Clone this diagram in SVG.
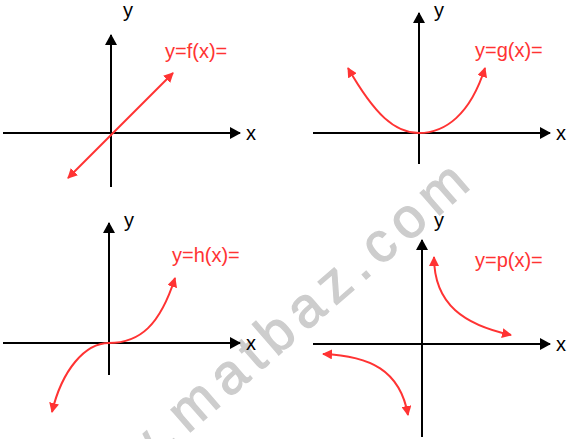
<svg xmlns="http://www.w3.org/2000/svg" width="567" height="439" viewBox="0 0 567 439">
<style>
.ax{stroke:#000;stroke-width:2;fill:none;marker-end:url(#ah)}
.cv{stroke:#ff3333;stroke-width:2;fill:none;marker-start:url(#rh);marker-end:url(#rh)}
.lb{font-family:"Liberation Sans",Arial,sans-serif;font-size:20px;fill:#000}
.fn{font-family:"Liberation Sans",Arial,sans-serif;font-size:20px;fill:#ff3333}
.wm{font-family:"Liberation Sans",Arial,sans-serif;font-size:56px;fill:#cdcdcd;stroke:#cdcdcd;stroke-width:1.2;letter-spacing:8px}
</style>
<defs>
<marker id="ah" markerUnits="userSpaceOnUse" markerWidth="12" markerHeight="12" refX="10" refY="6" orient="auto" viewBox="0 0 12 12">
<path d="M0,0 L11,6 L0,12 z" fill="#000"/>
</marker>
<marker id="rh" markerUnits="userSpaceOnUse" markerWidth="11" markerHeight="10" refX="9" refY="5" orient="auto-start-reverse" viewBox="0 0 11 10">
<path d="M0,0 L10,5 L0,10 z" fill="#ff3333"/>
</marker>
</defs>
<rect width="567" height="439" fill="#fff"/>
<text class="wm" text-anchor="end" transform="translate(478,182) rotate(-41)">www.matbaz.com</text>

<g id="graph-f">
<line class="ax" x1="3" y1="133" x2="240" y2="133"/>
<line class="ax" x1="111" y1="187" x2="111" y2="35"/>
<line class="cv" x1="68" y1="178" x2="173" y2="73"/>
<text class="lb" x="246" y="140">x</text>
<text class="lb" x="123" y="17">y</text>
<text class="fn" x="165" y="58">y=f(x)=</text>
</g>

<g id="graph-g">
<line class="ax" x1="313" y1="133" x2="550" y2="133"/>
<line class="ax" x1="419" y1="164" x2="419" y2="13"/>
<path class="cv" d="M348,68 C375,115 395,133 419,133 C445,133 470,115 485,68"/>
<text class="lb" x="556" y="140">x</text>
<text class="lb" x="434" y="17">y</text>
<text class="fn" x="475" y="57">y=g(x)=</text>
</g>

<g id="graph-h">
<line class="ax" x1="3" y1="343" x2="240" y2="343"/>
<line class="ax" x1="109" y1="375" x2="109" y2="223"/>
<path class="cv" d="M52,412 C62,370 85,343 109,343 C140,343 160,325 175,278"/>
<text class="lb" x="246" y="350">x</text>
<text class="lb" x="124" y="227">y</text>
<text class="fn" x="172" y="262">y=h(x)=</text>
</g>

<g id="graph-p">
<line class="ax" x1="313" y1="344" x2="550" y2="344"/>
<line class="ax" x1="422" y1="437" x2="422" y2="240"/>
<path class="cv" d="M434,257 C434,305 465,325 511,335"/>
<path class="cv" d="M323,354 C370,356 400,370 408,415"/>
<text class="lb" x="556" y="351">x</text>
<text class="lb" x="434" y="227">y</text>
<text class="fn" x="475" y="267">y=p(x)=</text>
</g>
</svg>
